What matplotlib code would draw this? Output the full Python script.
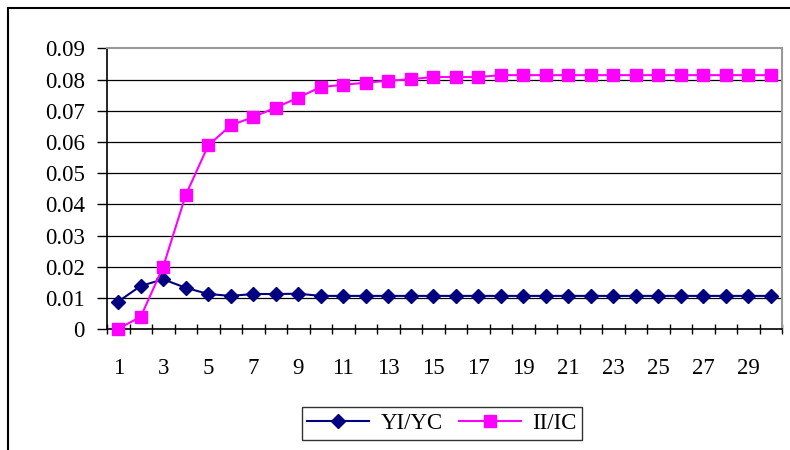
import numpy as np
import matplotlib
matplotlib.use('Agg')
import matplotlib.pyplot as plt
from matplotlib.lines import Line2D

periods = list(range(1, 31))
yi_yc = [0.0089, 0.0139, 0.0160, 0.0133, 0.0113, 0.0107, 0.0113, 0.0113, 0.0114, 0.0107,
         0.0107, 0.0107, 0.0107, 0.0107, 0.0107, 0.0107, 0.0107, 0.0107, 0.0107, 0.0107,
         0.0107, 0.0107, 0.0107, 0.0107, 0.0107, 0.0107, 0.0107, 0.0107, 0.0107, 0.0107]
ii_ic = [0.0002, 0.0040, 0.0201, 0.0430, 0.0589, 0.0653, 0.0680, 0.0710, 0.0742, 0.0776,
         0.0783, 0.0790, 0.0796, 0.0801, 0.0808, 0.0808, 0.0808, 0.0814, 0.0814, 0.0814,
         0.0814, 0.0814, 0.0814, 0.0814, 0.0814, 0.0814, 0.0814, 0.0814, 0.0814, 0.0814]
y_ticks = [0, 0.01, 0.02, 0.03, 0.04, 0.05, 0.06, 0.07, 0.08, 0.09]
y_labels = ['0', '0.01', '0.02', '0.03', '0.04', '0.05', '0.06', '0.07', '0.08', '0.09']
x_labels = [str(p) for p in periods if p % 2 == 1]

plt.rcParams['font.family'] = ['Liberation Serif', 'DejaVu Serif']

fig = plt.figure(figsize=(7.9, 4.5), dpi=100)
ax = fig.add_axes([107 / 790, 1 - 329.3 / 450, 675 / 790, 281 / 450])

# gridlines
for v in y_ticks[1:-1]:
    ax.axhline(v, color='black', lw=0.9, zorder=1)

ax.plot(periods, yi_yc, color='#000080', lw=1.5, marker='D', markersize=7.5,
        label='YI/YC', zorder=3, clip_on=False)
ax.plot(periods, ii_ic, color='#FF00FF', lw=1.5, marker='s', markersize=8,
        label='II/IC', zorder=3, clip_on=False)

ax.set_xlim(0.5, 30.5)
ax.set_ylim(0, 0.09)

ax.set_yticks(y_ticks)
ax.set_yticklabels(y_labels, fontsize=16.5)
ax.tick_params(axis='y', length=7, width=1, direction='out', pad=9)

ax.set_xticks([p for p in periods if p % 2 == 1])
ax.set_xticklabels(x_labels, fontsize=16.5)
ax.set_xticks(np.arange(0.5, 31, 1), minor=True)
ax.tick_params(axis='x', which='major', length=0, pad=21)
ax.tick_params(axis='x', which='minor', length=7, width=1, direction='inout')

for s in ['top', 'right']:
    ax.spines[s].set_color('#999999')
    ax.spines[s].set_linewidth(1.5)
for s in ['left', 'bottom']:
    ax.spines[s].set_color('black')
    ax.spines[s].set_linewidth(1.2)

leg = ax.legend(loc='upper center', bbox_to_anchor=(442 / 790, 1 - 407 / 450),
                bbox_transform=fig.transFigure, ncol=2, frameon=True, fancybox=False,
                fontsize=16.5, handlelength=2.7, columnspacing=0.7, handletextpad=0.5,
                borderpad=0.25, borderaxespad=0)
leg.get_frame().set_edgecolor('black')
leg.get_frame().set_linewidth(1.0)

# outer chart frame
fig.add_artist(Line2D([8 / 790, 1], [1 - 8 / 450, 1 - 8 / 450], color='black', lw=1.5))
fig.add_artist(Line2D([8 / 790, 8 / 790], [0, 1 - 8 / 450], color='black', lw=1.5))

fig.savefig('out.png', dpi=100)
